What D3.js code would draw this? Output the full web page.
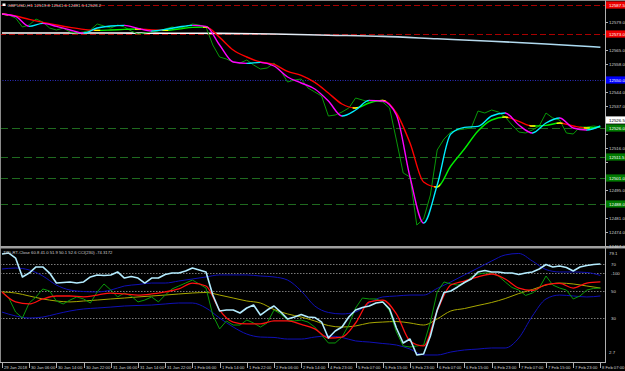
<!DOCTYPE html>
<html><head><meta charset="utf-8">
<script src="https://cdn.jsdelivr.net/npm/d3@7"></script>
<style>html,body{margin:0;padding:0;background:#000;overflow:hidden}svg{display:block}</style>
</head><body><svg id="c" width="625" height="371"></svg>
<script>
// ---------------- DATA ----------------
const symbolTitle = "GBPUSD,H1  12519.8 12541.6 12491.5 12528.2";
const indicatorTitle = "ZZD-RT-Close 60.8 41.0 51.9 50.1 52.6   CCI(230) -74.3172";
const timeLabels = ["29 Jan 2018","30 Jan 06:00","30 Jan 14:00","30 Jan 22:00","31 Jan 06:00","31 Jan 14:00","31 Jan 22:00","1 Feb 06:00","1 Feb 14:00","1 Feb 22:00","2 Feb 06:00","2 Feb 14:00","4 Feb 23:00","5 Feb 07:00","5 Feb 15:00","5 Feb 23:00","6 Feb 07:00","6 Feb 15:00","6 Feb 23:00","7 Feb 07:00","7 Feb 15:00","7 Feb 23:00","8 Feb 07:00"];
const barsPerLabel = 8;
const totalBars = 176;

// close price, one value every 2 bars
const priceClose = [12583.0,12582.5,12581.0,12576.5,12577.5,12580.5,12579.0,12576.0,12575.0,12576.0,
 12574.0,12573.5,12574.0,12575.0,12578.0,12577.0,12576.0,12577.5,12576.5,12574.5,
 12573.0,12573.5,12574.0,12574.5,12575.5,12576.5,12576.0,12576.5,12578.0,12577.5,
 12576.5,12567.5,12561.5,12560.5,12559.0,12558.5,12560.0,12557.5,12555.5,12556.0,
 12558.5,12554.5,12549.0,12550.0,12550.5,12546.0,12544.0,12542.0,12532.0,12532.5,
 12534.0,12536.0,12541.0,12540.0,12539.0,12539.5,12539.0,12536.0,12520.0,12503.5,
 12501.5,12477.5,12480.5,12492.5,12515.0,12520.5,12524.0,12525.0,12525.5,12526.0,
 12534.5,12533.5,12535.0,12534.0,12531.5,12527.5,12524.0,12523.5,12525.0,12527.0,
 12533.5,12531.0,12530.0,12523.5,12523.0,12526.5,12526.5,12527.0,12526.5];
// fast MA, one value every 4 bars
const fastMA = [12583.0,12581.8,12576.8,12578.3,12576.8,12575.0,12573.5,12576.0,12577.0,12577.3,
 12575.8,12574.5,12575.3,12576.5,12577.3,12576.8,12567.5,12559.0,12558.3,12558.8,
 12557.0,12551.5,12548.5,12545.5,12539.5,12532.0,12535.0,12539.8,12539.5,12532.5,
 12501.5,12478.5,12497.5,12523.0,12526.3,12526.8,12532.0,12533.5,12527.5,12523.5,
 12528.5,12531.0,12526.0,12525.0,12527.0];
// slow MA, one value every 4 bars
const slowMA = [12583.0,12582.0,12580.3,12578.8,12577.5,12576.3,12575.3,12574.8,12575.0,12575.3,
 12575.5,12575.0,12574.8,12575.5,12576.3,12576.5,12571.3,12565.0,12561.5,12559.0,
 12557.8,12554.3,12552.3,12548.8,12543.5,12538.0,12536.0,12538.5,12539.8,12533.5,
 12518.5,12499.0,12496.5,12507.0,12515.5,12524.5,12530.0,12531.5,12529.3,12527.0,
 12527.3,12528.5,12527.0,12526.0,12526.5];
// long MA, one value every 16 bars
const longMA = [12573.5,12573.5,12573.5,12573.4,12573.3,12573.0,12572.4,12571.8,12570.6,12569.4,12568.0,12566.4];

const priceTicks = [12579.0,12572.0,12565.0,12558.0,12551.0,12544.0,12537.0,12530.0,12523.0,12516.0,12509.0,12502.0,12495.0,12488.0,12481.0,12474.0,12467.0];
const redLevels = [12587.5, 12573.0];
const blueLevels = [12550.0];
const greenLevels = [12526.0, 12511.5, 12501.0, 12488.0];

// indicator window: every 2 bars
const cciLine = [77.4,78.1,74.4,60.4,63.3,67.8,67.8,63.3,55.9,56.3,
 56.7,55.9,56.7,60.4,61.9,61.5,61.9,64.1,59.6,60.7,
 59.6,55.9,59.6,59.6,62.2,63.3,63.3,64.8,67.0,65.6,
 64.1,47.0,35.2,35.9,35.9,33.7,37.4,39.6,32.2,35.9,
 38.9,34.4,29.3,30.7,32.6,30.7,30.4,27.0,15.2,20.4,
 23.3,30.7,35.9,37.8,38.9,41.1,41.9,36.7,22.6,11.5,
 14.4,2.6,3.3,16.7,35.9,48.9,50.0,53.0,56.3,58.9,
 64.1,65.2,64.1,64.1,63.3,63.3,62.2,63.3,64.1,66.3,
 69.6,67.8,68.5,67.4,64.8,67.8,68.9,69.6,70.0];
const rsiLine = [49.3,44.8,34.4,30.0,41.1,45.6,51.5,50.0,42.6,40.4,
 43.3,45.6,44.1,41.1,49.3,55.2,50.7,45.6,48.5,46.3,
 41.9,43.3,45.6,41.9,47.0,51.5,53.7,55.9,58.1,55.2,
 52.2,32.2,21.9,27.8,24.8,24.8,28.5,26.3,23.3,26.3,
 35.9,33.0,28.5,27.8,28.5,27.0,23.3,17.4,11.5,11.5,
 15.9,24.8,37.4,44.8,44.1,44.1,41.9,35.2,19.6,9.3,
 8.5,9.3,10.0,27.0,49.3,56.7,55.2,54.4,55.9,60.4,
 62.6,63.3,63.3,61.1,56.7,52.6,50.7,46.7,48.5,52.2,
 61.1,54.4,52.2,50.7,44.1,46.3,50.7,51.9,52.2];
// indicator window: every 4 bars
const signalLine = [49.3,41.9,40.4,44.1,46.3,46.3,45.6,47.0,48.5,47.8,
 47.0,47.8,49.3,51.5,55.9,53.7,35.9,27.0,25.6,25.6,
 27.8,27.8,25.2,21.9,15.2,15.9,26.3,41.9,43.3,33.0,
 13.0,9.3,35.2,54.4,57.4,60.4,62.6,58.9,52.2,50.4,
 54.8,55.6,52.2,55.9,56.7];
const slowLine = [49.3,48.5,46.3,44.1,42.6,41.9,42.6,43.3,44.1,44.8,
 45.6,46.3,47.0,47.8,48.5,48.9,47.0,44.8,42.6,41.1,
 36.3,33.0,30.7,27.8,24.4,23.3,24.1,26.3,27.0,27.4,
 26.3,24.8,29.3,35.2,37.0,39.3,41.5,44.4,48.1,51.1,
 54.4,55.9,55.2,53.7,52.2];
const upperBand = [66.3,67.0,65.6,61.1,54.4,50.7,49.6,49.3,50.7,53.7,
 54.8,55.9,55.9,57.4,58.9,60.4,61.9,61.9,61.9,61.1,
 60.4,58.1,50.0,38.9,34.1,33.0,34.4,41.1,45.6,46.3,
 47.0,47.0,51.9,56.7,61.9,67.0,72.2,76.7,77.8,72.2,
 65.9,64.1,64.1,63.7,61.5];
const lowerBand = [34.4,31.5,30.0,30.7,33.0,35.2,36.7,37.4,38.1,38.9,
 39.3,39.6,40.4,41.1,41.1,37.4,30.0,23.3,18.1,15.9,
 15.6,14.4,14.4,15.9,16.7,15.6,13.0,12.2,11.1,10.0,
 7.0,2.6,2.6,4.8,6.3,7.0,7.8,7.8,15.2,31.5,
 44.1,47.0,46.3,45.6,46.3];
const indLevels = [70, 63.3, 50, 30];
const indLevelLabels = ["70", "-100", "50", "30"];
const indRange = [2.7, 79.1];

// ---------------- DRAW ----------------
const W = 625, H = 371;
const svg = d3.select('#c');
const defs = svg.append('defs');
const FONT = "'Liberation Sans', Arial, sans-serif";
const plotR = 605;
const mainTop = 1, mainBot = 246, indTop = 249, indBot = 362;

const x = d3.scaleLinear().domain([0, totalBars]).range([2, 600.4]);
const yP = d3.scaleLinear().domain([12590, 12467]).range([0, 246]);
const yI = d3.scaleLinear().domain([0, 80]).range([358.5, 250.5]);

svg.append('rect').attr('width', W).attr('height', H).attr('fill', '#000');

defs.append('clipPath').attr('id', 'mainClip').append('rect')
  .attr('x', 1).attr('y', mainTop).attr('width', plotR - 1).attr('height', mainBot - mainTop);
defs.append('clipPath').attr('id', 'indClip').append('rect')
  .attr('x', 1).attr('y', indTop).attr('width', plotR - 1).attr('height', indBot - indTop);

const gMain = svg.append('g').attr('clip-path', 'url(#mainClip)');
const gInd = svg.append('g').attr('clip-path', 'url(#indClip)');

function hLevel(g, yv, color, dash, w) {
  g.append('line').attr('x1', 0).attr('x2', plotR).attr('y1', yv).attr('y2', yv)
    .attr('stroke', color).attr('stroke-width', w || 1).attr('stroke-dasharray', dash);
}
redLevels.forEach(v => hLevel(gMain, Math.round(yP(v)) + 0.5, '#a80000', '6,3', 1.2));
blueLevels.forEach(v => hLevel(gMain, Math.round(yP(v)) + 0.5, '#2a2ab8', '1,1.5', 1));
greenLevels.forEach(v => hLevel(gMain, Math.round(yP(v)) + 0.5, '#1f6a1f', '8,4', 1));

const grad = defs.append('linearGradient').attr('id', 'lgrad').attr('gradientUnits', 'userSpaceOnUse')
  .attr('x1', 0).attr('x2', plotR).attr('y1', 0).attr('y2', 0);
grad.append('stop').attr('offset', '0%').attr('stop-color', '#ffffff');
grad.append('stop').attr('offset', '42%').attr('stop-color', '#f4f8ff');
grad.append('stop').attr('offset', '60%').attr('stop-color', '#c4d6e4');
grad.append('stop').attr('offset', '100%').attr('stop-color', '#a8dcf4');
gMain.append('path')
  .attr('d', d3.line().x((d, i) => x(i * 16)).y(d => yP(d)).curve(d3.curveMonotoneX)(longMA))
  .attr('fill', 'none').attr('stroke', 'url(#lgrad)').attr('stroke-width', 1.6);

gMain.append('path')
  .attr('d', d3.line().x((d, i) => x(i * 2)).y(d => yP(d))(priceClose))
  .attr('fill', 'none').attr('stroke', '#089808').attr('stroke-width', 1);

let clipN = 0;
function dirLine(g, vals, step, yS, upColor, downColor, width, turnColor) {
  const d = d3.line().x((v, i) => x(i * step)).y(v => yS(v)).curve(d3.curveMonotoneX)(vals);
  const segs = [];
  let cur = null;
  for (let i = 0; i < vals.length - 1; i++) {
    const up = vals[i + 1] > vals[i];
    if (!cur || cur.up !== up) { cur = { up, a: i, b: i + 1 }; segs.push(cur); }
    else cur.b = i + 1;
  }
  segs.forEach(s => {
    const id = 'seg' + (clipN++);
    defs.append('clipPath').attr('id', id).append('rect')
      .attr('x', x(s.a * step) - 0.2).attr('width', x(s.b * step) - x(s.a * step) + 0.4)
      .attr('y', 0).attr('height', H);
    g.append('path').attr('d', d).attr('clip-path', `url(#${id})`).attr('fill', 'none')
      .attr('stroke', s.up ? upColor : downColor).attr('stroke-width', width);
  });
  if (turnColor) {
    const turns = [x(0) + 3].concat(segs.slice(1).map(s => x(s.a * step)));
    turns.forEach(tx => {
      const id = 'seg' + (clipN++);
      defs.append('clipPath').attr('id', id).append('rect')
        .attr('x', tx - 3).attr('width', 6).attr('y', 0).attr('height', H);
      g.append('path').attr('d', d).attr('clip-path', `url(#${id})`).attr('fill', 'none')
        .attr('stroke', turnColor).attr('stroke-width', width);
    });
  }
}
dirLine(gMain, slowMA, 4, yP, '#00ee00', '#ff0000', 1.4, '#ffff00');
dirLine(gMain, fastMA, 4, yP, '#00eeff', '#ff00ff', 1.4, null);

// ---------- indicator window ----------
indLevels.forEach(v => {
  gInd.append('line').attr('x1', 0).attr('x2', plotR)
    .attr('y1', Math.round(yI(v)) + 0.5).attr('y2', Math.round(yI(v)) + 0.5)
    .attr('stroke', '#9a9a9a').attr('stroke-width', 0.8).attr('stroke-dasharray', '1.5,1.5');
});
function indLine(vals, step, color, w, curve) {
  const ln = d3.line().x((v, i) => x(i * step)).y(v => yI(v));
  if (curve) ln.curve(d3.curveMonotoneX);
  gInd.append('path').attr('d', ln(vals)).attr('fill', 'none')
    .attr('stroke', color).attr('stroke-width', w).attr('stroke-linejoin', 'round');
}
indLine(upperBand, 4, '#1010b8', 1, true);
indLine(lowerBand, 4, '#1010b8', 1, true);
indLine(slowLine, 4, '#a8a800', 1, true);
indLine(rsiLine, 2, '#0a9a0a', 1, false);
indLine(signalLine, 4, '#ff1010', 1.3, true);
indLine(cciLine, 2, '#b4ecff', 1.6, false);

// ---------- frame ----------
const frame = '#8a8a8a';
svg.append('line').attr('x1', 0).attr('x2', W).attr('y1', 0.5).attr('y2', 0.5).attr('stroke', frame);
svg.append('line').attr('x1', 0.5).attr('x2', 0.5).attr('y1', 0).attr('y2', indBot).attr('stroke', frame);
svg.append('line').attr('x1', plotR + 0.5).attr('x2', plotR + 0.5).attr('y1', 0).attr('y2', indBot + 1).attr('stroke', '#b0b0b0');
svg.append('rect').attr('x', 0).attr('y', mainBot).attr('width', W).attr('height', 2.5).attr('fill', '#a0a0a0');
svg.append('line').attr('x1', 0).attr('x2', plotR + 1).attr('y1', indBot + 0.5).attr('y2', indBot + 0.5).attr('stroke', '#b0b0b0');

// ---------- texts ----------
const txt = (t, tx, ty, size, fill, anchor) => svg.append('text').text(t).attr('x', tx).attr('y', ty)
  .attr('font-family', FONT).attr('font-size', size).attr('fill', fill).attr('text-anchor', anchor || 'start');

svg.append('rect').attr('x', 2.5).attr('y', 3.5).attr('width', 3).attr('height', 2.5).attr('fill', '#ffffff');
txt(symbolTitle, 7.5, 7.4, 4.4, '#cfcfcf');
txt(indicatorTitle, 3, 253.6, 4.2, '#cfcfcf');

// coloured price boxes (positions first, so plain tick labels under them can be skipped)
const lastClose = priceClose[priceClose.length - 1];
const boxes = [];
redLevels.forEach(v => boxes.push({ v, bg: '#ee0000', fg: '#ffffff', dy: 0 }));
blueLevels.forEach(v => boxes.push({ v, bg: '#0000ff', fg: '#ffffff', dy: 0 }));
greenLevels.forEach(v => boxes.push({ v, bg: '#007a00', fg: '#ffffff', dy: 0 }));
boxes.push({ v: lastClose, bg: '#ffffff', fg: '#000000', dy: -7 });
const boxYs = boxes.map(b => yP(b.v) + b.dy);

priceTicks.forEach(v => {
  const yy = yP(v);
  svg.append('line').attr('x1', plotR).attr('x2', plotR + 3).attr('y1', Math.round(yy) + 0.5).attr('y2', Math.round(yy) + 0.5).attr('stroke', '#b0b0b0');
  if (boxYs.some(by => Math.abs(by - yy) < 7.5)) return;
  txt(d3.format('.1f')(v), 609, yy + 1.6, 4.4, '#d0d0d0');
});
boxes.forEach((b, i) => {
  const yy = boxYs[i];
  svg.append('rect').attr('x', plotR + 1).attr('y', yy - 3.6).attr('width', W - plotR).attr('height', 7.2).attr('fill', b.bg);
  txt(d3.format('.1f')(b.v), 609, yy + 1.6, 4.4, b.fg);
});

// indicator axis labels
indLevels.forEach((v, i) => txt(indLevelLabels[i], 611, yI(v) + 1.6, 4.4, '#d0d0d0'));
txt(d3.format('.1f')(indRange[1]), 609, yI(indRange[1]) + 3.5, 4.4, '#d0d0d0');
txt(d3.format('.1f')(indRange[0]), 609, yI(indRange[0]) - 0.5, 4.4, '#d0d0d0');

// time axis
timeLabels.forEach((t, i) => {
  const xx = Math.round(x(i * barsPerLabel)) + 0.5;
  svg.append('line').attr('x1', xx).attr('x2', xx).attr('y1', indBot).attr('y2', indBot + 6).attr('stroke', '#b0b0b0');
  txt(t, xx + 1.5, 368.5, 4.2, '#d0d0d0');
});
</script>
</body></html>
